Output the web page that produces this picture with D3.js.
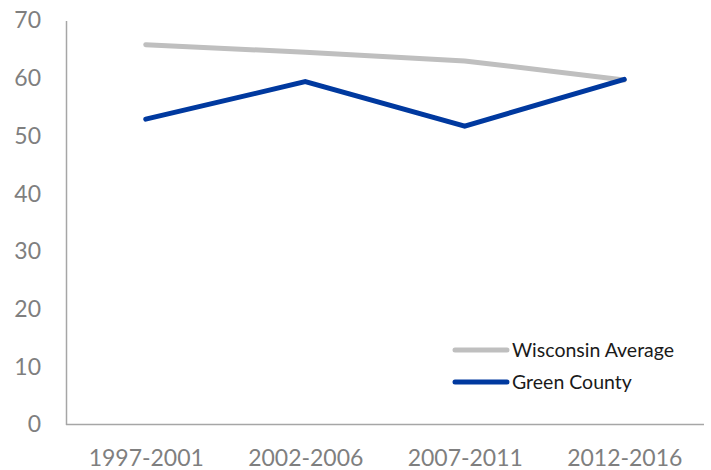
<!DOCTYPE html>
<html>
<head>
<meta charset="utf-8">
<script src="https://cdn.jsdelivr.net/npm/d3@7"></script>
<style>
  html, body { margin: 0; padding: 0; background: #fff; }
  svg { display: block; font-family: Lato, "Open Sans", sans-serif; }
</style>
</head>
<body>
<svg id="chart" width="711" height="470"></svg>
<script>
// Periods and the two series plotted against them
const periods = ["1997-2001", "2002-2006", "2007-2011", "2012-2016"];
const wisconsinAverage = [65.8, 64.5, 63.0, 59.7];
const greenCounty = [52.9, 59.4, 51.7, 59.8];
const yTicks = [0, 10, 20, 30, 40, 50, 60, 70];

const series = [
  { name: "Wisconsin Average", values: wisconsinAverage, color: "#bfbfbf" },
  { name: "Green County", values: greenCounty, color: "#00399f" }
];

const svg = d3.select("#chart");
const plot = { left: 66, right: 704, top: 20.5, bottom: 424.5 };

const x = d3.scalePoint().domain(periods).range([plot.left, plot.right]).padding(0.5);
const y = d3.scaleLinear().domain([0, 70]).range([plot.bottom, plot.top]);

// Y axis: vertical rule with labels only
const yAxis = svg.append("g")
  .attr("transform", `translate(${plot.left},0)`)
  .call(d3.axisLeft(y).tickValues(yTicks).tickSize(0).tickPadding(25));
yAxis.select(".domain").attr("stroke", "#a6a6a6").attr("stroke-width", 1.5);
yAxis.selectAll("text")
  .attr("fill", "#7f7f7f")
  .style("font-size", "23px")
  .style("font-family", "Lato, sans-serif");

// X axis: horizontal rule with period labels
const xAxis = svg.append("g")
  .attr("transform", `translate(0,${plot.bottom})`)
  .call(d3.axisBottom(x).tickSize(0).tickPadding(25));
xAxis.select(".domain")
  .attr("d", `M${plot.left},0H${plot.right}`)
  .attr("stroke", "#a6a6a6").attr("stroke-width", 1.5);
xAxis.selectAll("text")
  .attr("fill", "#7f7f7f")
  .style("font-size", "23px")
  .style("font-family", "Lato, sans-serif");

// Lines
const line = d3.line()
  .x((d, i) => x(periods[i]))
  .y(d => y(d));

svg.append("g").selectAll("path")
  .data(series)
  .join("path")
  .attr("d", d => line(d.values))
  .attr("fill", "none")
  .attr("stroke", d => d.color)
  .attr("stroke-width", 5)
  .attr("stroke-linejoin", "miter")
  .attr("stroke-linecap", "round");

// Legend
const legend = svg.append("g").attr("transform", "translate(455,350)");
const item = legend.selectAll("g")
  .data(series)
  .join("g")
  .attr("transform", (d, i) => `translate(0,${i * 32})`);
item.append("line")
  .attr("x1", 0).attr("x2", 52)
  .attr("y1", 0).attr("y2", 0)
  .attr("stroke", d => d.color)
  .attr("stroke-width", 5)
  .attr("stroke-linecap", "round");
item.append("text")
  .attr("x", 57)
  .attr("y", 0)
  .attr("dy", "0.35em")
  .attr("fill", "#1a1a1a")
  .style("font-size", "19.5px")
  .text(d => d.name);
</script>
</body>
</html>
